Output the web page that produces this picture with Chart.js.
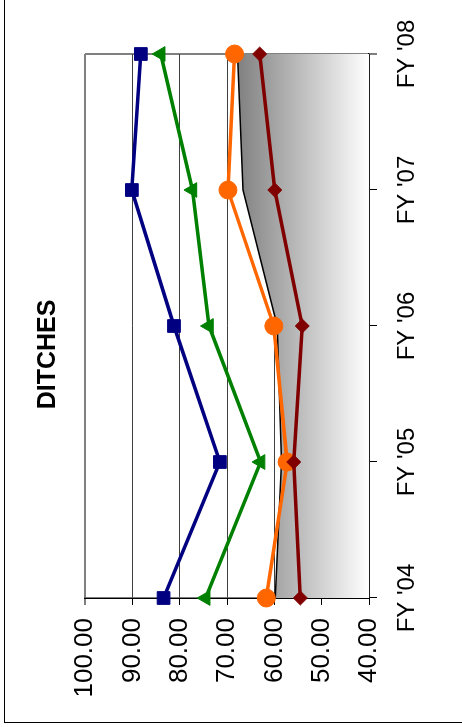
<!DOCTYPE html>
<html>
<head>
<meta charset="utf-8">
<script src="https://cdn.jsdelivr.net/npm/chart.js@4/dist/chart.umd.min.js"></script>
<style>
  body { margin: 0; background: #fff; }
  #wrap { position: relative; width: 462px; height: 727px; overflow: hidden; }
  #frame { position: absolute; left: 4px; top: -10px; width: 470px; height: 731px; border: 1px solid #000; }
  #chart { position: absolute; left: 0; top: 0; transform-origin: 0 0; transform: translate(0, 727px) rotate(-90deg); }
</style>
</head>
<body>
<div id="wrap">
  <div id="frame"></div>
  <canvas id="chart" width="727" height="462"></canvas>
</div>
<script>
const years = ["FY '04", "FY '05", "FY '06", "FY '07", "FY '08"]
const blueSquares = [83.4, 71.5, 81.2, 90.1, 88.2]
const greenTriangles = [74.5, 62.9, 73.8, 77.3, 84.0]
const orangeCircles = [61.7, 57.3, 60.1, 69.8, 68.4]
const redDiamonds = [54.5, 55.9, 54.1, 59.9, 63.1]
const grayArea = [59.8, 58.5, 59.4, 66.6, 67.8]
const valueTicks = [40, 50, 60, 70, 80, 90, 100]

const font = 'Liberation Sans, Arial, sans-serif'

function series(data, color, style, radius, order) {
    return {
        data: data,
        borderColor: color,
        backgroundColor: color,
        borderWidth: 3.5,
        pointStyle: style,
        pointRadius: radius,
        pointBorderWidth: 1,
        pointBackgroundColor: color,
        pointBorderColor: color,
        tension: 0,
        clip: false,
        order: order,
    }
}

const areaFill = (ctx) => {
    const chart = ctx.chart
    if (!chart.chartArea) return '#a0a0a0'
    const top = chart.scales.y.getPixelForValue(Math.max(...grayArea))
    const g = chart.ctx.createLinearGradient(0, top, 0, chart.chartArea.bottom)
    g.addColorStop(0, '#808080')
    g.addColorStop(1, '#ffffff')
    return g
}

// the title is centred on the whole chart frame, not on the plot
const titleShift = {
    id: 'titleShift',
    afterLayout(chart) {
        const t = chart.titleBlock
        t.left = 18
        t.right = chart.width
        t.width = t.right - t.left
    },
}

new Chart(document.getElementById('chart'), {
    type: 'line',
    plugins: [titleShift],
    data: {
        labels: years,
        datasets: [
            series(blueSquares, '#000080', 'rect', 9, 4),
            series(greenTriangles, '#008000', 'triangle', 8.5, 3),
            series(orangeCircles, '#FF6600', 'circle', 9, 2),
            series(redDiamonds, '#800000', 'rectRot', 7, 1),
            {
                data: grayArea,
                borderColor: '#000',
                borderWidth: 1.5,
                backgroundColor: areaFill,
                fill: 'start',
                pointRadius: 0,
                tension: 0,
                order: 5,
            },
        ],
    },
    options: {
        responsive: false,
        animation: false,
        devicePixelRatio: 1,
        layout: { padding: { left: 0, right: 54, top: 0, bottom: 0 } },
        plugins: {
            legend: { display: false },
            tooltip: { enabled: false },
            title: {
                display: true,
                text: 'DITCHES',
                color: '#000',
                font: { family: font, size: 25, weight: 'bold', lineHeight: 1.2 },
                padding: { top: 33, bottom: 22 },
            },
        },
        scales: {
            x: {
                offset: false,
                afterFit: (s) => { s.height = 93 },
                border: { color: '#000', width: 1.5 },
                grid: {
                    color: (c) => c.index === 4 ? '#808080' : 'rgba(0,0,0,0)',
                    lineWidth: (c) => c.index === 4 ? 2 : 1,
                    tickColor: '#000',
                    tickWidth: 1,
                    tickLength: 8,
                },
                ticks: {
                    color: '#000',
                    font: { family: font, size: 24 },
                    padding: 16,
                    maxRotation: 0,
                },
            },
            y: {
                min: 40,
                max: 100,
                afterFit: (s) => { s.width = 129 },
                afterBuildTicks: (s) => { s.ticks = valueTicks.map(v => ({ value: v })) },
                border: { color: '#000', width: 1.5 },
                grid: {
                    color: (c) => c.tick && c.tick.value === 100 ? '#808080' : '#404040',
                    lineWidth: (c) => c.tick && c.tick.value === 100 ? 2 : 1,
                    tickColor: '#000',
                    tickWidth: 1,
                    tickLength: 7,
                },
                ticks: {
                    color: '#000',
                    font: { family: font, size: 26 },
                    padding: 13,
                    callback: (v) => Number(v).toFixed(2),
                },
            },
        },
    },
})
</script>
</body>
</html>
